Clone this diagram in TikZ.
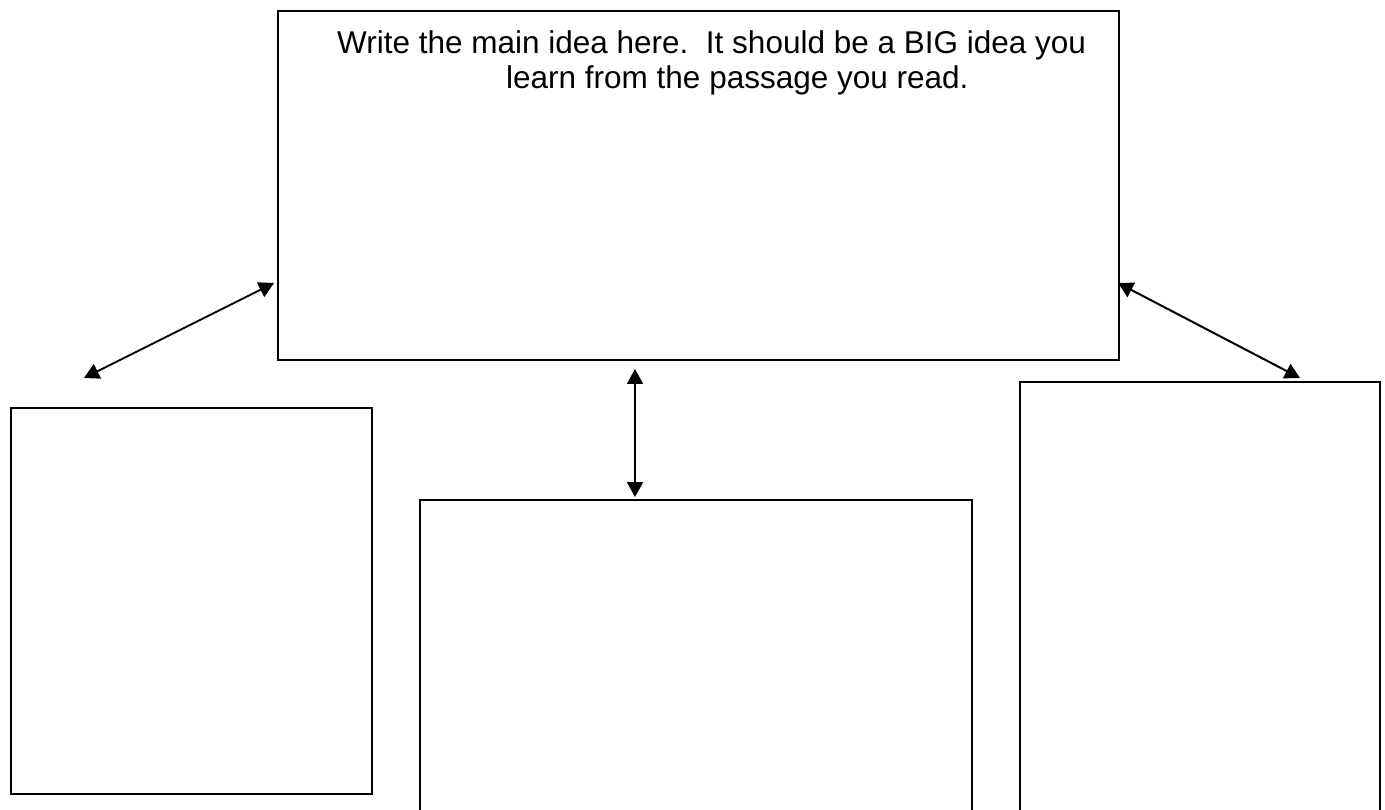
\documentclass[tikz,border=0pt]{standalone}
\usepackage{fontspec}
\setmainfont{Liberation Sans}
\usetikzlibrary{arrows.meta}
\begin{document}
\begin{tikzpicture}[x=1pt,y=-1pt,
  box/.style={draw=black,line width=2pt,minimum width=0pt,minimum height=0pt,inner sep=0pt},
  link/.style={line width=2pt,{Triangle[length=15pt,width=16pt]}-{Triangle[length=15pt,width=16pt]}},
  txt/.style={anchor=base west,inner sep=0pt,font=\fontsize{31.5}{36}\selectfont}]
\useasboundingbox[fill=white] (0,0) rectangle (1385,810);
\node[box,minimum width=841pt,minimum height=349pt,anchor=north west] (main) at (277,10) {};
\node[box,minimum width=361pt,minimum height=386pt,anchor=north west] (left) at (10,407) {};
\node[box,minimum width=552pt,minimum height=330pt,anchor=north west] (mid) at (419,499) {};
\node[box,minimum width=360pt,minimum height=450pt,anchor=north west] (right) at (1019,381) {};
\node[txt] (t1) at (337,54) {Write the main idea here.\ \ It should be a BIG idea you};
\node[txt] (t2) at (506,89) {learn from the passage you read.};
\coordinate (la) at (274,283);
\coordinate (lb) at (84,378);
\coordinate (ma) at (635,369);
\coordinate (mb) at (635,497);
\coordinate (ra) at (1118,283);
\coordinate (rb) at (1300,378);
\draw[link] (la) -- (lb);
\draw[link] (ma) -- (mb);
\draw[link] (ra) -- (rb);
\end{tikzpicture}
\end{document}
